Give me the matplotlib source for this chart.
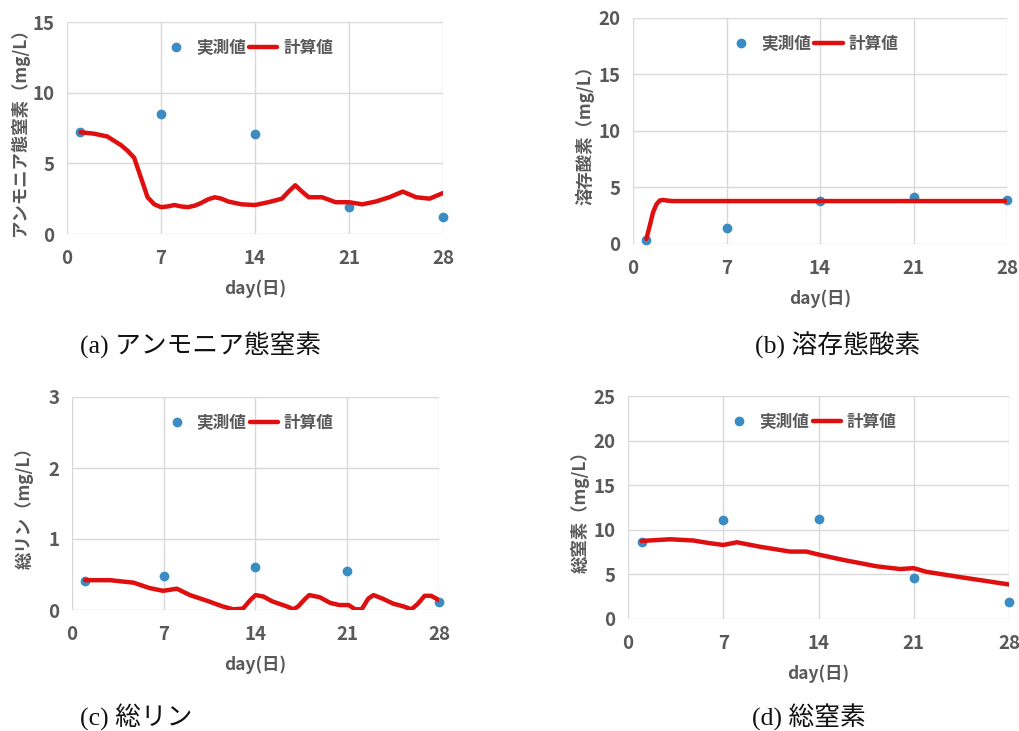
import matplotlib
matplotlib.use('Agg')
import matplotlib.pyplot as plt
import numpy as np

plt.rcParams['font.family'] = ['Noto Sans CJK JP', 'DejaVu Sans']

# measured values (days 1, 7, 14, 21, 28)
obs_days = [1, 7, 14, 21, 28]
nh4_obs = [7.2, 8.5, 7.1, 1.9, 1.2]
do_obs = [0.38, 1.4, 3.8, 4.2, 3.9]
tp_obs = [0.41, 0.48, 0.60, 0.55, 0.11]
tn_obs = [8.6, 11.1, 11.25, 4.65, 1.95]

# calculated values
nh4_days = [1, 2, 3, 4, 4.5, 5, 5.5, 6, 6.5, 7, 7.5, 8, 8.5, 9, 9.5, 10, 10.5, 11,
            11.5, 12, 13, 14, 15, 16, 16.5, 17, 17.5, 18, 19, 20, 21, 22, 23, 24,
            25, 26, 27, 28]
nh4_calc = [7.2, 7.1, 6.9, 6.3, 5.9, 5.4, 4.0, 2.6, 2.1, 1.9, 1.95, 2.05, 1.95,
            1.9, 2.0, 2.2, 2.45, 2.6, 2.5, 2.3, 2.1, 2.05, 2.25, 2.5, 3.0, 3.45,
            3.0, 2.6, 2.6, 2.25, 2.25, 2.1, 2.3, 2.6, 3.0, 2.6, 2.5, 2.9]

do_days = [1, 1.25, 1.5, 1.75, 2, 2.25, 2.5, 3, 28]
do_calc = [0.45, 1.6, 2.8, 3.5, 3.85, 3.9, 3.85, 3.8, 3.8]

tp_days = [1, 2.9, 4.7, 5.9, 6.95, 8.0, 9.0, 10.3, 11.5, 12.3, 13.05, 13.6, 14.0,
           14.6, 15.3, 16.4, 16.9, 17.25, 17.8, 18.1, 18.9, 19.7, 20.4, 21.1,
           21.6, 22.1, 22.6, 23.0, 23.7, 24.5, 25.3, 25.9, 26.4, 26.9, 27.4, 28]
tp_calc = [0.42, 0.42, 0.385, 0.31, 0.27, 0.30, 0.21, 0.13, 0.05, 0.01, 0.02,
           0.14, 0.21, 0.19, 0.12, 0.05, 0.01, 0.05, 0.16, 0.21, 0.18, 0.10,
           0.07, 0.07, 0.01, 0.01, 0.16, 0.21, 0.16, 0.09, 0.05, 0.01, 0.09,
           0.20, 0.20, 0.14]

tn_days = [1, 3.1, 4.8, 6.0, 7.0, 8.0, 9.7, 11.9, 13.1, 13.9, 15.8, 18.3, 20.0,
           21.0, 21.9, 24.4, 28]
tn_calc = [8.75, 8.94, 8.8, 8.5, 8.3, 8.6, 8.1, 7.56, 7.56, 7.26, 6.63, 5.9, 5.6,
           5.7, 5.3, 4.7, 3.87]

ylabels = ['アンモニア態窒素（mg/L）', '溶存酸素（mg/L）', '総リン（mg/L）', '総窒素（mg/L）']
captions = ['(a) アンモニア態窒素', '(b) 溶存態酸素', '(c) 総リン', '(d) 総窒素']
ymaxes = [15, 20, 3, 25]
ysteps = [5, 5, 1, 5]

TEXT = '#595959'
BLUE = '#3b8cc2'
RED = '#e00f0f'

fig = plt.figure(figsize=(10.19, 7.31), dpi=100)

# axes rectangles in pixels: left, top, right, bottom
rects = [(67, 22, 443, 234), (633, 18, 1007, 244),
         (72, 397, 439, 610), (628, 396, 1009, 619)]
W, H = 1019, 731

panels = [(nh4_days, nh4_calc, nh4_obs), (do_days, do_calc, do_obs),
          (tp_days, tp_calc, tp_obs), (tn_days, tn_calc, tn_obs)]

for i, (l, t, r, b) in enumerate(rects):
    ax = fig.add_axes([l / W, 1 - b / H, (r - l) / W, (b - t) / H])
    cd, cv, ov = panels[i]
    ax.plot(obs_days, ov, 'o', color=BLUE, markersize=6, label='実測値',
            zorder=3, clip_on=False)
    ax.plot(cd, cv, '-', color=RED, lw=3.2, label='計算値', zorder=4,
            solid_joinstyle='round', solid_capstyle='round')
    ax.set_xlim(0, 28)
    ax.set_ylim(0, ymaxes[i])
    ax.set_xticks([0, 7, 14, 21, 28])
    ax.set_yticks(np.arange(0, ymaxes[i] + 0.01, ysteps[i]))
    ax.grid(True, color='#d9d9d9', lw=1)
    ax.set_axisbelow(True)
    for s in ax.spines.values():
        s.set_visible(False)
    ax.tick_params(length=0, labelsize=13.5, colors=TEXT)
    ax.tick_params(axis='y', pad=9)
    ax.tick_params(axis='x', pad=11)
    for lab in ax.get_xticklabels() + ax.get_yticklabels():
        lab.set_fontweight('bold')
    hpx = b - t
    wpx = r - l
    ax.set_xlabel('day(日)', fontsize=12.5, color=TEXT, fontweight='bold')
    ax.xaxis.set_label_coords(0.5, -55 / hpx)
    ax.xaxis.label.set_va('center')
    ax.set_ylabel(ylabels[i], fontsize=12.5, color=TEXT, fontweight='bold')
    ax.yaxis.set_label_coords(-48 / wpx, 0.5)
    ax.yaxis.label.set_va('center')
    leg = ax.legend(loc='center', bbox_to_anchor=(0.48, 1 - 26 / hpx), ncol=2,
                    frameon=False, fontsize=12, handlelength=1.7,
                    handletextpad=0.35, columnspacing=0.2)
    for txt in leg.get_texts():
        txt.set_color(TEXT)
        txt.set_fontweight('bold')

cap_pos = [(80, 345), (755, 345), (80, 717), (752, 717)]
for (x, y), c in zip(cap_pos, captions):
    fig.text(x / W, 1 - y / H, c, fontsize=18.5, color='#111111', va='center',
             ha='left', family=['Liberation Serif', 'Noto Sans CJK JP'])

fig.savefig('out.png', dpi=100)
